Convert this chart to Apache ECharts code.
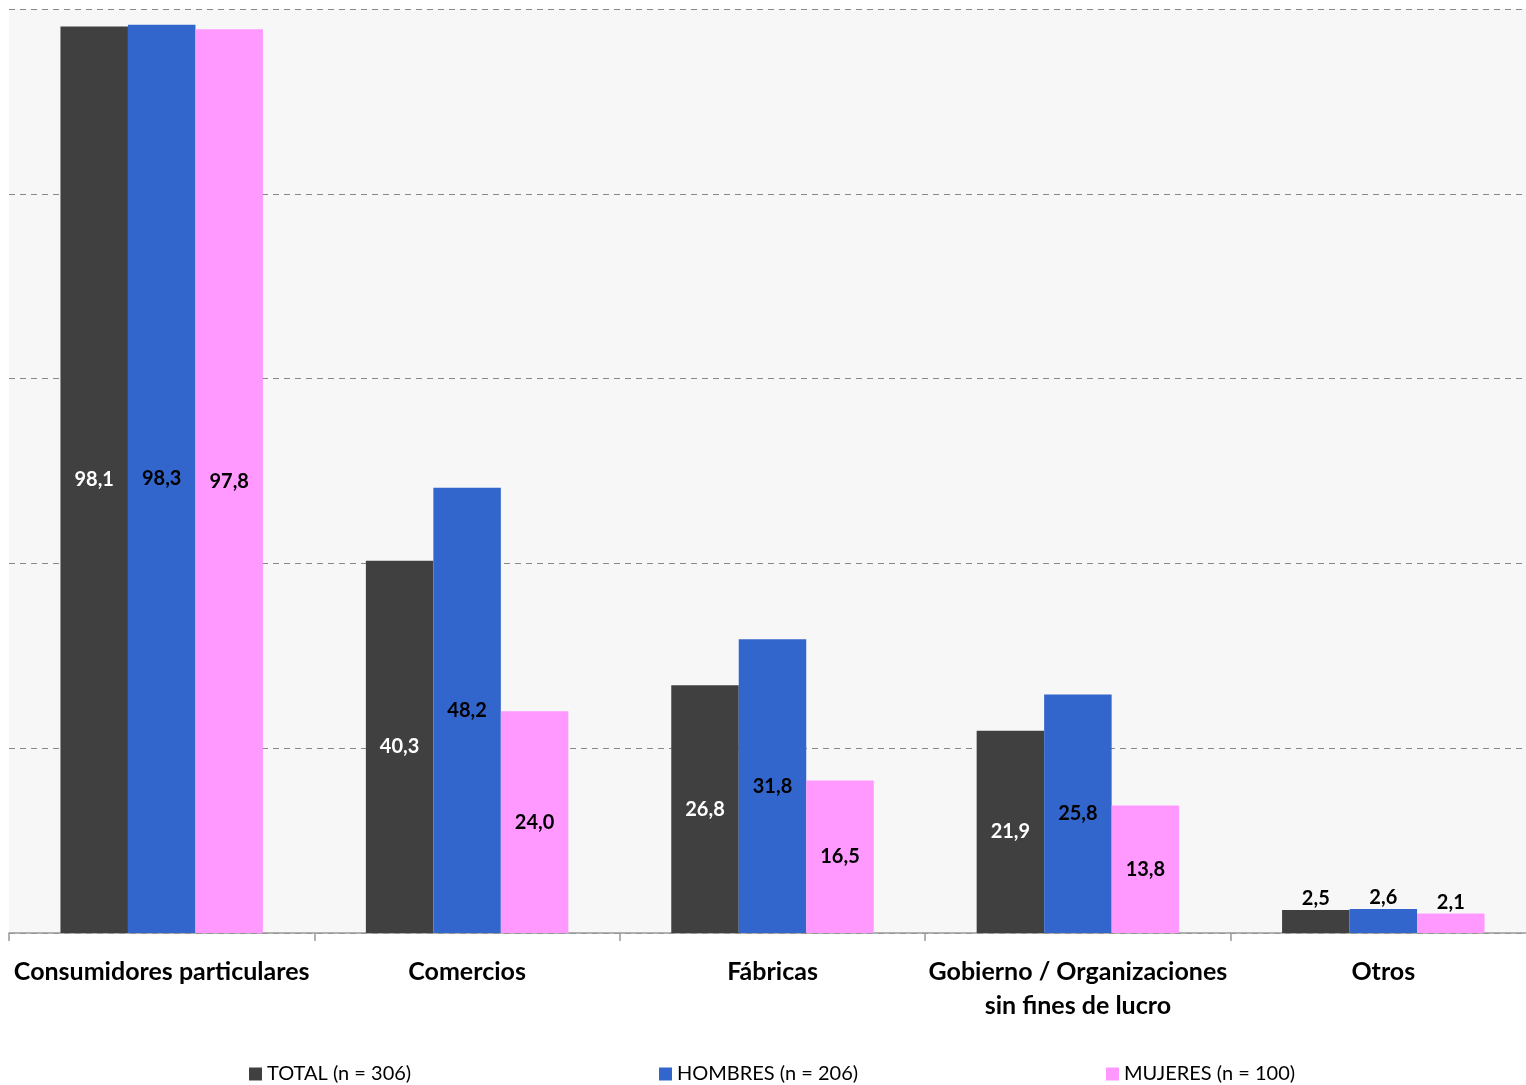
<!DOCTYPE html>
<html><head><meta charset="utf-8">
<script src="https://cdn.jsdelivr.net/npm/echarts@6/dist/echarts.min.js"></script>
<style>html,body{margin:0;padding:0;background:#fff}#c{width:1526px;height:1085px}</style>
</head><body><div id="c"></div>
<script>
const categories = ['Consumidores particulares', 'Comercios', 'Fábricas', 'Gobierno / Organizaciones\nsin fines de lucro', 'Otros'];
const seriesNames = ['TOTAL (n = 306)', 'HOMBRES (n = 206)', 'MUJERES (n = 100)'];
const totalValues = [98.1, 40.3, 26.8, 21.9, 2.5];
const hombresValues = [98.3, 48.2, 31.8, 25.8, 2.6];
const mujeresValues = [97.8, 24.0, 16.5, 13.8, 2.1];
const yTicks = [0, 20, 40, 60, 80, 100];

const colors = ['#404040', '#3366cc', '#ff99ff'];
const insideColors = ['#ffffff', '#000000', '#000000'];
const FONT = 'Lato, "Open Sans", sans-serif';

function buildData(values, idx) {
  return values.map(v => {
    const small = v < 5;
    return {
      value: v,
      label: {
        position: small ? 'top' : 'inside',
        color: small ? '#000' : insideColors[idx],
        distance: 1
      }
    };
  });
}

const allValues = [totalValues, hombresValues, mujeresValues];
const series = allValues.map((vals, i) => ({
  name: seriesNames[i],
  type: 'bar',
  barWidth: '22.1%',
  barGap: '0%',
  itemStyle: { color: colors[i] },
  label: {
    show: true,
    fontFamily: FONT,
    fontWeight: 'bold',
    fontSize: 20,
    formatter: p => p.value.toFixed(1).replace('.', ',')
  },
  data: buildData(vals, i)
}));

const legendLefts = [249, 659, 1106];
const legends = seriesNames.map((n, i) => ({
  data: [n],
  left: legendLefts[i],
  top: 1064,
  padding: 0,
  itemWidth: 13,
  itemHeight: 13,
  icon: 'rect',
  itemGap: 0,
  textStyle: { fontFamily: FONT, fontSize: 20, color: '#000' }
}));

const chart = echarts.init(document.getElementById('c'), null, { renderer: 'canvas' });
chart.setOption({
  animation: false,
  backgroundColor: '#ffffff',
  legend: legends,
  grid: {
    left: 9, width: 1527, top: 9, bottom: 152,
    outerBoundsMode: 'none',
    show: true, backgroundColor: '#f7f7f7', borderWidth: 0
  },
  xAxis: {
    type: 'category',
    data: categories,
    axisLine: { lineStyle: { color: '#999999', width: 1.5 } },
    axisTick: { show: true, length: 8, lineStyle: { color: '#999999', width: 1.5 } },
    axisLabel: {
      interval: 0, margin: 22, fontFamily: FONT, fontWeight: 'bold',
      fontSize: 25, color: '#000', lineHeight: 34
    }
  },
  yAxis: {
    type: 'value',
    min: yTicks[0], max: yTicks[yTicks.length - 1], interval: 20,
    axisLabel: { show: false },
    axisLine: { show: false },
    axisTick: { show: false },
    splitLine: { show: true, lineStyle: { color: '#888888', type: [6, 5], width: 1.2 } }
  },
  series: series
});
</script>
</body></html>
